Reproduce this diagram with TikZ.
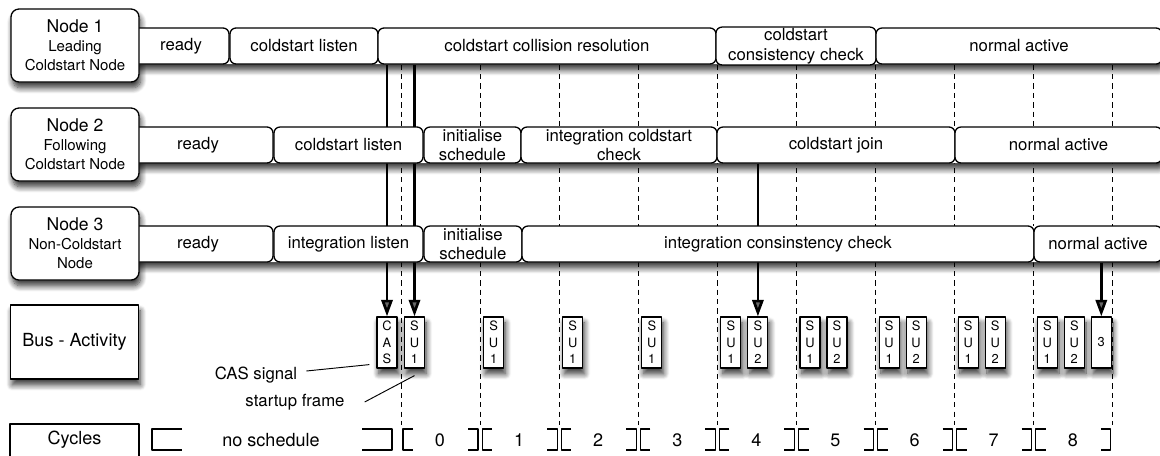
\documentclass[tikz,border=0pt]{standalone}
\usepackage{fontspec}
\setmainfont{TeX Gyre Heros}
\usetikzlibrary{arrows.meta,calc,shadows.blur}
\pgfdeclarelayer{back}
\pgfsetlayers{back,main}

\newcommand\titlesize{\fontsize{15}{17}\selectfont}
\newcommand\subsize{\fontsize{12.8}{16.3}\selectfont}
\newcommand\phasesize{\fontsize{14.3}{16.8}\selectfont}
\newcommand\framesize{\fontsize{11}{14.2}\selectfont}
\newcommand\lanesize{\fontsize{15.4}{18}\selectfont}

\tikzset{
  softshadow/.style={blur shadow={shadow xshift=1.5pt, shadow yshift=-5pt,
      shadow blur radius=5pt, shadow blur steps=10, shadow opacity=80}},
  nodebox/.style={draw, fill=white, line width=1.1pt, rounded corners=2.4mm,
      align=center, minimum width=38.4mm, minimum height=21.9mm, font=\subsize},
  boxshade/.style={fill=white, rounded corners=2.4mm, softshadow},
  lanebox/.style={draw, fill=white, line width=1.1pt, minimum width=38.4mm, font=\lanesize},
  rowshade/.style={fill=white, rounded corners=1.8mm, softshadow},
  phase/.style={draw, fill=white, line width=1.1pt, rounded corners=1.8mm,
      align=center, minimum height=10.8mm, inner sep=1pt, font=\phasesize},
  busframe/.style={draw, fill=white, line width=1pt, minimum width=6mm,
      minimum height=15.3mm, inner sep=0pt, align=center, font=\framesize, softshadow},
  slotline/.style={line width=0.8pt, dash pattern=on 4.5pt off 3.5pt},
  busarrow/.style={line width=2.3pt, -{Triangle[length=5mm,width=3.4mm]}},
  leader/.style={line width=0.8pt},
  bracket/.style={line width=1pt},
  note/.style={font=\phasesize},
}

\begin{document}
\begin{tikzpicture}[x=0.3mm, y=-0.3mm, line join=round]
\useasboundingbox (0,0) rectangle (1160,455);
\clip (0,0) rectangle (1160,455);

% shadows of the node boxes and of the phase rows
\foreach \yt in {9,108,207}
  \path[boxshade] (11,\yt) rectangle (139,\yt+73);
\foreach \xs/\yc in {133/46,123/145,123/244}
  \path[rowshade] (\xs,\yc-18) rectangle (1162,\yc+18);

\foreach \nm/\xa/\xb/\yc/\txt in {
    rdy1/133/229/46/ready, csl1/230/378/46/coldstart listen,
    csr/378/716/46/coldstart collision resolution,
    csc/716/876/46/{coldstart\\consistency check}, na1/876/1162/46/normal active,
    rdy2/123/273/145/ready, csl2/274/423/145/coldstart listen,
    ini2/424/521/145/{initialise\\schedule}, icc/521/717/145/{integration coldstart\\check},
    cjoin/717/955/145/coldstart join, na2/955/1162/145/normal active,
    rdy3/123/273/244/ready, il3/274/423/244/integration listen,
    ini3/424/522/244/{initialise\\schedule}, icons/522/1034/244/integration consinstency check,
    na3/1034/1162/244/normal active}
  \node[phase, minimum width={(\xb-\xa)*0.3mm}] (\nm) at ({(\xa+\xb)/2},\yc) {\txt};

% lanes on the left
\node[nodebox] (n1) at (75,45.5) {{\titlesize Node 1}\\Leading\\Coldstart Node};
\node[nodebox] (n2) at (75,144.5) {{\titlesize Node 2}\\Following\\Coldstart Node};
\node[nodebox] (n3) at (75,243.5) {{\titlesize Node 3}\\Non-Coldstart\\Node};
\node[lanebox, minimum height=22.2mm, softshadow] (bus) at (74.5,342) {Bus - Activity};
\draw[line width=1.1pt, fill=white] (10,424) rectangle (139,470);
\node[font=\lanesize] (cycles) at (74.5,440) {Cycles};

% frames on the bus
\node[busframe] (cas) at (387,342.5) {C\\A\\S};
\foreach \k in {0,...,8}{
  \pgfmathsetmacro\cx{401+79.1*\k}
  \node[busframe] (sua\k) at (\cx+13.5,342.5) {S\\U\\1};
  \ifnum\k>3 \node[busframe] (sub\k) at (\cx+40.5,342.5) {S\\U\\2}; \fi
}
\node[busframe] (nd3) at (401+79.1*8+67.5,342.5) {3};

% cycle counter
\node[note, font=\lanesize] (nosched) at (271,440) {no schedule};
\draw[bracket] (182,429) -- (152,429) -- (152,450) -- (182,450);
\draw[bracket] (362,429) -- (392,429) -- (392,450) -- (362,450);
\foreach \k in {0,...,8}{
  \pgfmathsetmacro\cx{401+79.1*\k}
  \node[font=\lanesize] (cyc\k) at (\cx+39,440) {\k};
  \draw[bracket] (\cx+12,429) -- (\cx+2,429) -- (\cx+2,450) -- (\cx+12,450);
  \draw[bracket] (\cx+67,429) -- (\cx+77,429) -- (\cx+77,450) -- (\cx+67,450);
}

% callouts
\node[note] (lcas) at (256,375) {CAS signal};
\node[note] (lsu) at (295,402) {startup frame};
\draw[leader] ($(lcas.east)+(5,-4)$) -- ($(cas.south west)+(-7,-4)$);
\draw[leader] ($(lsu.east)+(16,0)$) -- ($(sua0.south)+(0,7)$);

% slot borders and transmissions go behind the boxes
\begin{pgfonlayer}{back}
  \foreach \k in {0,...,9}
    \draw[slotline] (401+79.1*\k,46) -- (401+79.1*\k,425);
  \draw[busarrow] (cas.north |- csr.south) -- (cas.north);
  \draw[busarrow] (sua0.north |- csr.south) -- (sua0.north);
  \draw[busarrow] (sub4.north |- cjoin.south) -- (sub4.north);
  \draw[busarrow] (nd3.north |- na3.south) -- (nd3.north);
\end{pgfonlayer}
\end{tikzpicture}
\end{document}
